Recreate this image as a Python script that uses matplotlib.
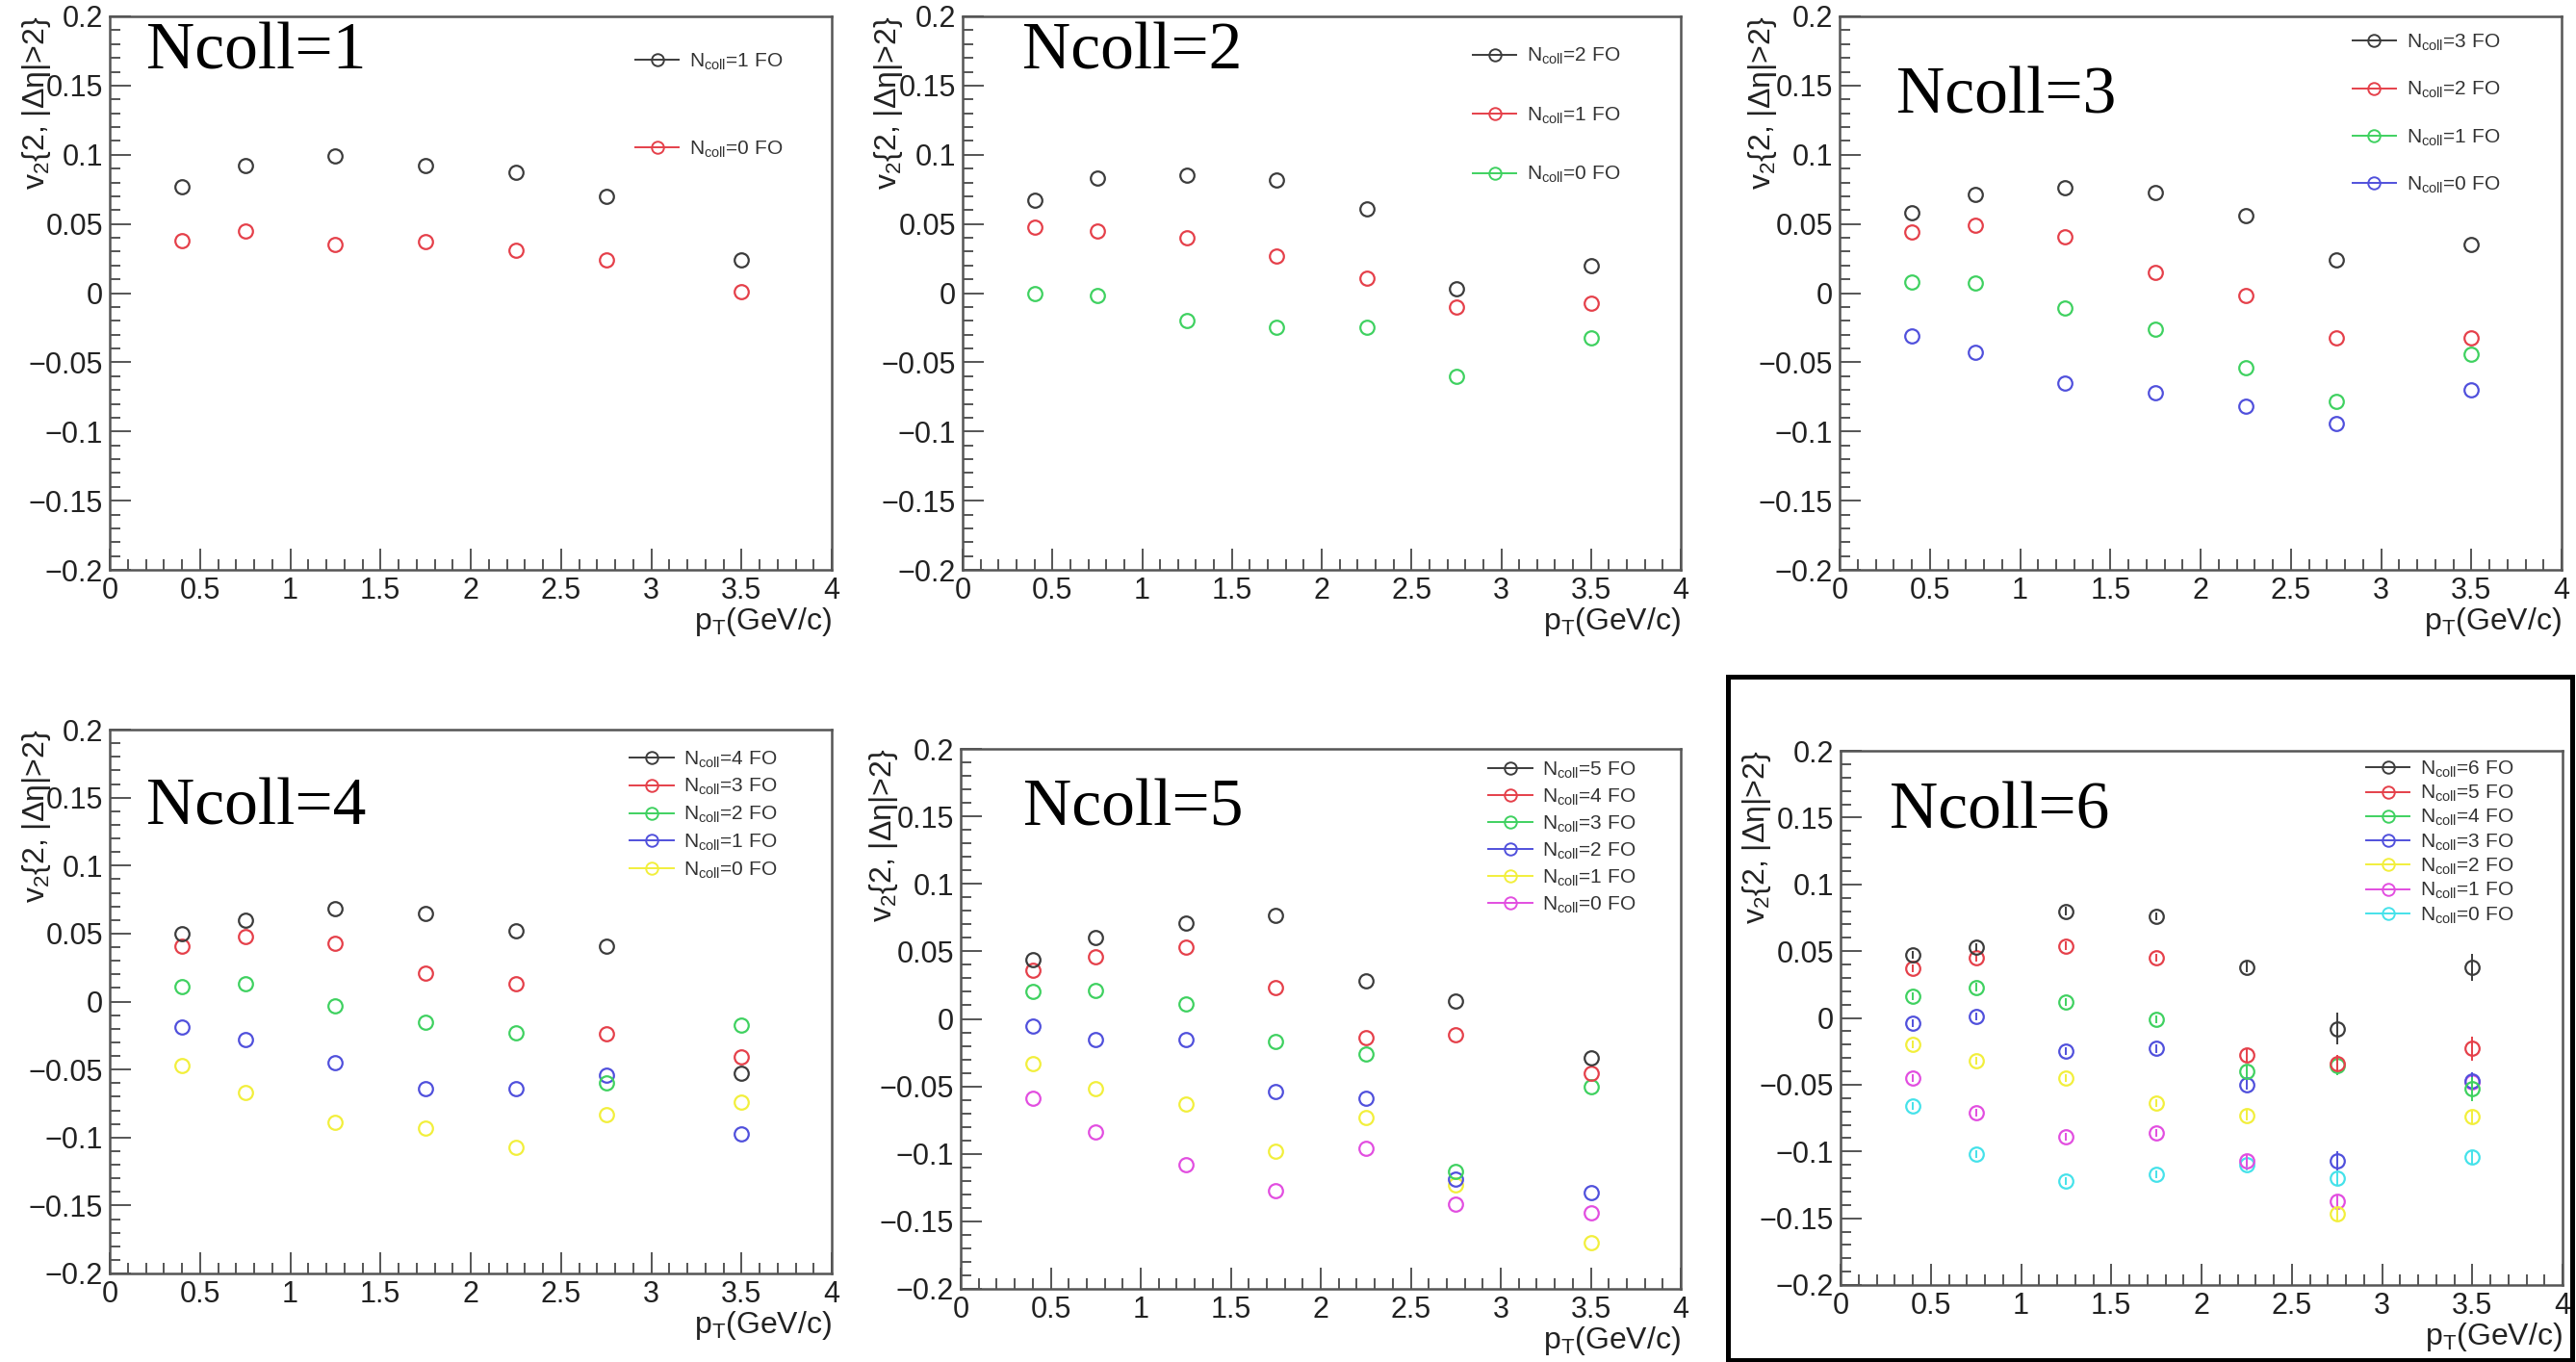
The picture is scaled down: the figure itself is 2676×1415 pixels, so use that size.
import matplotlib
matplotlib.use("Agg")
import matplotlib.pyplot as plt
from matplotlib.lines import Line2D
from matplotlib.patches import Rectangle
from matplotlib.ticker import MultipleLocator, FuncFormatter

plt.rcParams['font.family'] = ['Liberation Sans', 'DejaVu Sans']
plt.rcParams['mathtext.fontset'] = 'custom'
plt.rcParams['mathtext.rm'] = 'Liberation Sans'
plt.rcParams['mathtext.it'] = 'Liberation Sans:italic'

# pT bin centres (GeV/c)
pt_bins = [0.4, 0.75, 1.25, 1.75, 2.25, 2.75, 3.5]

# v2{2,|deta|>2}, series ordered Ncoll=N FO ... Ncoll=0 FO
v2_ncoll1 = [
    [0.077, 0.092, 0.099, 0.092, 0.087, 0.070, 0.024],
    [0.038, 0.045, 0.035, 0.037, 0.031, 0.024, 0.001],
]
v2_ncoll2 = [
    [0.067, 0.083, 0.085, 0.082, 0.061, 0.003, 0.020],
    [0.048, 0.045, 0.040, 0.027, 0.011, -0.010, -0.007],
    [0.000, -0.002, -0.020, -0.025, -0.025, -0.060, -0.032],
]
v2_ncoll3 = [
    [0.058, 0.071, 0.076, 0.073, 0.056, 0.024, 0.035],
    [0.044, 0.049, 0.041, 0.015, -0.002, -0.032, -0.032],
    [0.008, 0.007, -0.011, -0.026, -0.054, -0.078, -0.044],
    [-0.031, -0.043, -0.065, -0.072, -0.082, -0.094, -0.070],
]
v2_ncoll4 = [
    [0.050, 0.060, 0.068, 0.065, 0.052, 0.041, -0.053],
    [0.041, 0.048, 0.043, 0.021, 0.013, -0.024, -0.041],
    [0.011, 0.013, -0.003, -0.015, -0.023, -0.060, -0.017],
    [-0.019, -0.028, -0.045, -0.064, -0.064, -0.054, -0.097],
    [-0.047, -0.067, -0.089, -0.093, -0.107, -0.083, -0.074],
]
v2_ncoll5 = [
    [0.044, 0.060, 0.071, 0.077, 0.028, 0.013, -0.029],
    [0.036, 0.046, 0.053, 0.023, -0.014, -0.012, -0.040],
    [0.020, 0.021, 0.011, -0.017, -0.026, -0.113, -0.050],
    [-0.005, -0.015, -0.015, -0.054, -0.059, -0.119, -0.129],
    [-0.033, -0.052, -0.063, -0.098, -0.073, -0.123, -0.166],
    [-0.059, -0.084, -0.108, -0.127, -0.096, -0.137, -0.144],
]
v2_ncoll6 = [
    [0.047, 0.053, 0.080, 0.076, 0.038, -0.008, 0.038],
    [0.037, 0.045, 0.054, 0.045, -0.028, -0.034, -0.023],
    [0.016, 0.023, 0.012, -0.001, -0.040, -0.036, -0.053],
    [-0.004, 0.001, -0.025, -0.023, -0.050, -0.107, -0.047],
    [-0.020, -0.032, -0.045, -0.064, -0.073, -0.147, -0.074],
    [-0.045, -0.071, -0.089, -0.086, -0.107, -0.137, -0.048],
    [-0.066, -0.102, -0.122, -0.117, -0.110, -0.120, -0.104],
]
# stat. errors only visible in the Ncoll=6 panel
err_ncoll6 = [
    [0.003, 0.003, 0.003, 0.003, 0.004, 0.012, 0.010],
    [0.003, 0.003, 0.003, 0.003, 0.005, 0.006, 0.009],
    [0.003, 0.003, 0.003, 0.003, 0.004, 0.007, 0.009],
    [0.003, 0.003, 0.003, 0.003, 0.004, 0.007, 0.006],
    [0.003, 0.003, 0.003, 0.003, 0.004, 0.005, 0.005],
    [0.003, 0.003, 0.003, 0.003, 0.004, 0.005, 0.005],
    [0.003, 0.003, 0.003, 0.003, 0.004, 0.005, 0.005],
]

panels = [v2_ncoll1, v2_ncoll2, v2_ncoll3, v2_ncoll4, v2_ncoll5, v2_ncoll6]
root_colors = ['#3c3c3c', '#e5404a', '#3fd160', '#5050dc', '#f2ef3c', '#e24ee0', '#45e2ea']

W, H = 2676, 1415
# axes boxes in pixels: left, right, top, bottom
boxes = [(114, 864, 17, 592), (1000, 1746, 17, 592), (1911, 2661, 17, 592),
         (114, 864, 758, 1323), (998, 1746, 778, 1339), (1912, 2662, 780, 1335)]
# label "Ncoll=n" position (data coords)
tag_pos = [(0.205, 0.162), (0.33, 0.162), (0.316, 0.130),
           (0.205, 0.130), (0.35, 0.143), (0.27, 0.142)]
# legend: handle start x, first row centre y (data), labelspacing
leg_pos = [(2.91, 0.169, 3.33), (2.84, 0.173, 1.93), (2.84, 0.183, 1.35),
           (2.88, 0.180, 0.36), (2.93, 0.186, 0.32), (2.91, 0.188, 0.19)]
ylab_x = [-0.079, -0.081, -0.084, -0.079, -0.084, -0.093]


def root_fmt(v, pos):
    s = '%g' % round(v, 4)
    return s.replace('-', '\u2212')


fig = plt.figure(figsize=(W / 100, H / 100), dpi=100)

for i, series in enumerate(panels):
    l, r, t, b = boxes[i]
    axh = b - t
    ax = fig.add_axes([l / W, 1 - b / H, (r - l) / W, axh / H])
    n = len(series)
    for k, vals in enumerate(series):
        yerr = err_ncoll6[k] if i == 5 else None
        ax.errorbar(pt_bins, vals, yerr=yerr, fmt='o', ms=10.5, mfc='none',
                    mec=root_colors[k], mew=1.6, ecolor=root_colors[k],
                    elinewidth=1.4, capsize=0, zorder=3 + n - k)

    ax.set_xlim(0, 4)
    ax.set_ylim(-0.2, 0.2)
    ax.xaxis.set_major_locator(MultipleLocator(0.5))
    ax.xaxis.set_minor_locator(MultipleLocator(0.1))
    ax.yaxis.set_major_locator(MultipleLocator(0.05))
    ax.yaxis.set_minor_locator(MultipleLocator(0.01))
    ax.xaxis.set_major_formatter(FuncFormatter(root_fmt))
    ax.yaxis.set_major_formatter(FuncFormatter(root_fmt))
    ax.tick_params(which='both', direction='in', top=False, right=False,
                   color='#555555', width=1.4, labelsize=22, labelcolor='#222222')
    ax.tick_params(which='major', length=16, pad=5)
    ax.tick_params(which='minor', length=8)
    for sp in ax.spines.values():
        sp.set_color('#555555')
        sp.set_linewidth(1.8)

    ax.set_ylabel('v$_{2}${2, |\u0394\u03b7|>2}', fontsize=23, color='#222222', loc='top')
    ax.yaxis.set_label_coords(ylab_x[i], 1.0)
    ax.set_xlabel('p$_{\\rm T}$(GeV/c)', fontsize=23, color='#222222', loc='right')
    ax.xaxis.set_label_coords(1.0, -37 / axh)

    tx, ty = tag_pos[i]
    ax.text(tx, ty, 'Ncoll=%d' % (n - 1), family='Liberation Serif',
            fontsize=50, color='black', ha='left', va='baseline')

    handles = [Line2D([], [], color=root_colors[k], lw=1.4, marker='o', ms=9,
                      mfc='none', mec=root_colors[k], mew=1.4) for k in range(n)]
    labels = ['N$_{\\rm coll}$=%d FO' % (n - 1 - k) for k in range(n)]
    hx, hy, lsp = leg_pos[i]
    ax.legend(handles, labels, loc='upper left',
              bbox_to_anchor=(hx / 4, (hy + 0.2) / 0.4 + 8 / axh),
              frameon=False, fontsize=15, labelspacing=lsp, handlelength=2.2,
              handletextpad=0.5, borderpad=0, borderaxespad=0,
              labelcolor='#333333')

# box drawn around the last panel
fig.patches.append(Rectangle((1795 / W, 1 - 1413 / H), (2672 - 1795) / W, (1413 - 703) / H,
                             transform=fig.transFigure, fill=False, ec='black', lw=3.6))
# cut-off glyph at top right
fig.text(2565 / W, 1 + 18 / H, 'y', family='Liberation Serif', style='italic',
         fontsize=50, ha='center', va='baseline')

fig.savefig('out.png', dpi=100, facecolor='white')
